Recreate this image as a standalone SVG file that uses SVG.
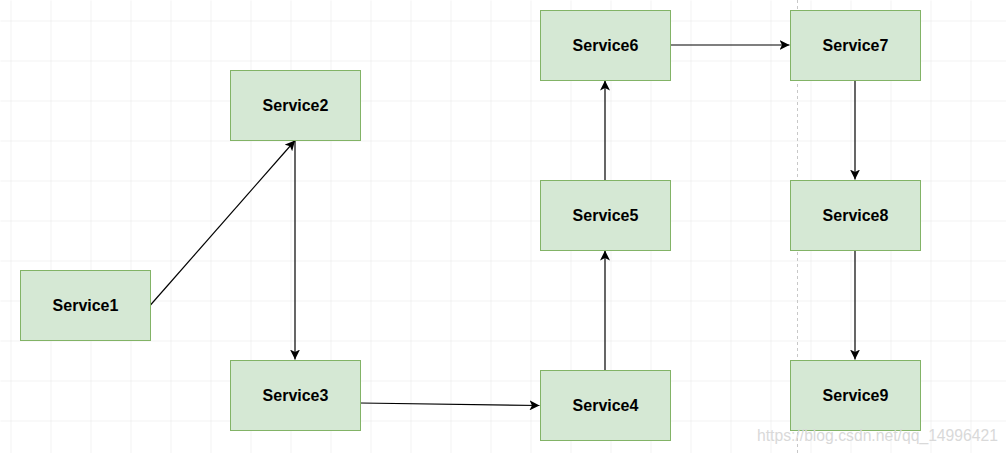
<svg xmlns="http://www.w3.org/2000/svg" width="1006" height="453" viewBox="0 0 1006 453">
<defs>
<pattern id="grid" x="10" y="20" width="40" height="40" patternUnits="userSpaceOnUse">
<path d="M0 0H40M0 0V40" fill="none" stroke="#e6e6e6" stroke-width="1"/>
</pattern>
<marker id="arr" viewBox="0 0 10 10" refX="10" refY="5" markerWidth="10" markerHeight="10" markerUnits="userSpaceOnUse" orient="auto">
<path d="M0 0L10 5L0 10L2.5 5Z" fill="#000"/>
</marker>
</defs>
<style>
.n rect{fill:#d5e8d4;stroke:#82b366;stroke-width:1}
.n text{font-family:"Liberation Sans",Arial,sans-serif;font-weight:bold;font-size:16px;fill:#000;text-anchor:middle;dominant-baseline:central}
.e path{fill:none;stroke:#000;stroke-width:1.2;marker-end:url(#arr)}
</style>
<rect width="1006" height="453" fill="#fff"/>
<rect width="1006" height="453" fill="url(#grid)" transform="translate(0.5 0.5)"/>
<line x1="797.5" y1="0" x2="797.5" y2="453" stroke="#c8c8c8" stroke-dasharray="3 3"/>
<g class="e" id="connectors">
<path d="M150.5 305L295 140.5"/>
<path d="M295 140.5V359.5"/>
<path d="M360 403L539.5 405.5"/>
<path d="M605 370V250.5"/>
<path d="M605 180V80.5"/>
<path d="M670 45H789.5"/>
<path d="M855 80V179.5"/>
<path d="M855 250V359.5"/>
</g>
<g class="n" id="service1"><rect x="20.5" y="270.5" width="130" height="70"/><text x="85.5" y="305.5">Service1</text></g>
<g class="n" id="service2"><rect x="230.5" y="70.5" width="130" height="70"/><text x="295.5" y="105.5">Service2</text></g>
<g class="n" id="service3"><rect x="230.5" y="360.5" width="130" height="70"/><text x="295.5" y="395.5">Service3</text></g>
<g class="n" id="service4"><rect x="540.5" y="370.5" width="130" height="70"/><text x="605.5" y="405.5">Service4</text></g>
<g class="n" id="service5"><rect x="540.5" y="180.5" width="130" height="70"/><text x="605.5" y="215.5">Service5</text></g>
<g class="n" id="service6"><rect x="540.5" y="10.5" width="130" height="70"/><text x="605.5" y="45.5">Service6</text></g>
<g class="n" id="service7"><rect x="790.5" y="10.5" width="130" height="70"/><text x="855.5" y="45.5">Service7</text></g>
<g class="n" id="service8"><rect x="790.5" y="180.5" width="130" height="70"/><text x="855.5" y="215.5">Service8</text></g>
<g class="n" id="service9"><rect x="790.5" y="360.5" width="130" height="70"/><text x="855.5" y="395.5">Service9</text></g>
<text x="998" y="441" text-anchor="end" font-family="Liberation Sans,Arial,sans-serif" font-size="16" fill="#d9d9d9" textLength="241" lengthAdjust="spacingAndGlyphs">https://blog.csdn.net/qq_14996421</text>
</svg>
